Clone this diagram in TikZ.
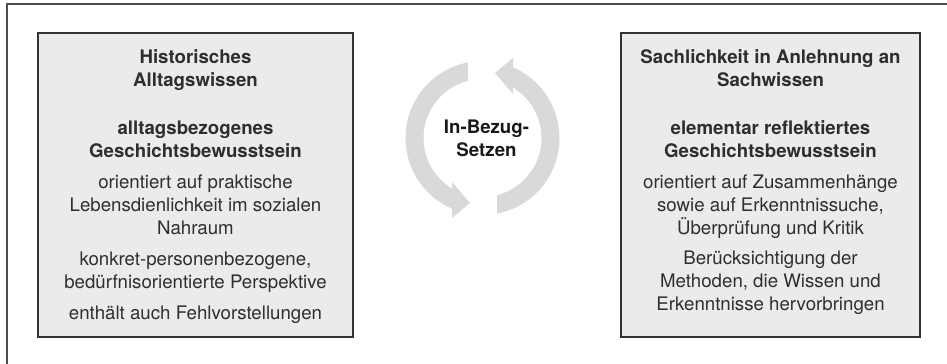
\documentclass[tikz,border=0pt]{standalone}
\usepackage{fontspec}
\setmainfont{TeX Gyre Heros}
\usetikzlibrary{shadows}

\definecolor{boxgray}{HTML}{EBEBEB}
\definecolor{cyclegray}{HTML}{D9D9D9}
\definecolor{textgray}{HTML}{2E2E2E}

\tikzset{
  frameline/.style={draw=black!70, line width=1.2pt},
  wissenbox/.style={rectangle, draw=black!80, line width=0.8pt, fill=boxgray,
    minimum height=228pt,
    drop shadow={shadow xshift=0.8pt, shadow yshift=-0.8pt, fill=black!45, opacity=1}},
  wissentext/.style={anchor=north, align=center, inner sep=0pt, text=textgray,
    font=\fontsize{14}{17.25}\selectfont},
  cyclearrow/.style={fill=cyclegray},
  cyclelabel/.style={align=center, inner sep=0pt, text=black!90,
    font=\fontsize{14}{17.25}\selectfont\bfseries}
}

\begin{document}
\begin{tikzpicture}[x=0.75pt, y=0.75pt]
\useasboundingbox (0,0) rectangle (947,364);
%frame:
\draw[frameline] (947,360) -- (7,360) -- (7,0);
%boxes:
\node[wissenbox, minimum width=236.25pt] (alltag) at (195.5,179) {};
\node[wissenbox, minimum width=224.25pt] (sach) at (770.5,179) {};
%left text:
\node[wissentext] (alltagtext) at ([yshift=-12.8pt]alltag.north)
  {\textbf{Historisches}\\\textbf{Alltagswissen}\\[18.75pt]
   \textbf{alltagsbezogenes}\\\textbf{Geschichtsbewusstsein}\\[6pt]
   orientiert auf praktische\\Lebensdienlichkeit im sozialen\\Nahraum\\[6pt]
   konkret-personenbezogene,\\bedürfnisorientierte Perspektive\\[6pt]
   enthält auch Fehlvorstellungen};
%right text:
\node[wissentext] (sachtext) at ([yshift=-12.8pt]sach.north)
  {\textbf{Sachlichkeit in Anlehnung an}\\\textbf{Sachwissen}\\[18.75pt]
   \textbf{elementar reflektiertes}\\\textbf{Geschichtsbewusstsein}\\[6pt]
   orientiert auf Zusammenhänge\\sowie auf Erkenntnissuche,\\Überprüfung und Kritik\\[5pt]
   Berücksichtigung der\\Methoden, die Wissen und\\Erkenntnisse hervorbringen};
%cycle arrows:
\coordinate (cycle) at (482.5,226);
\foreach \turn in {0,180}
  \fill[cyclearrow, shift={(cycle)}, rotate=\turn]
    (100.9:77) arc[start angle=100.9, end angle=246.7, radius=77]
    -- (-30.5,-80) -- (-12.5,-65) -- (-30.5,-44)
    -- (238.9:59) arc[start angle=238.9, end angle=104.2, radius=59] -- cycle;
\node[cyclelabel] (bezug) at (486.5,226) {In-Bezug-\\Setzen};
\end{tikzpicture}
\end{document}
